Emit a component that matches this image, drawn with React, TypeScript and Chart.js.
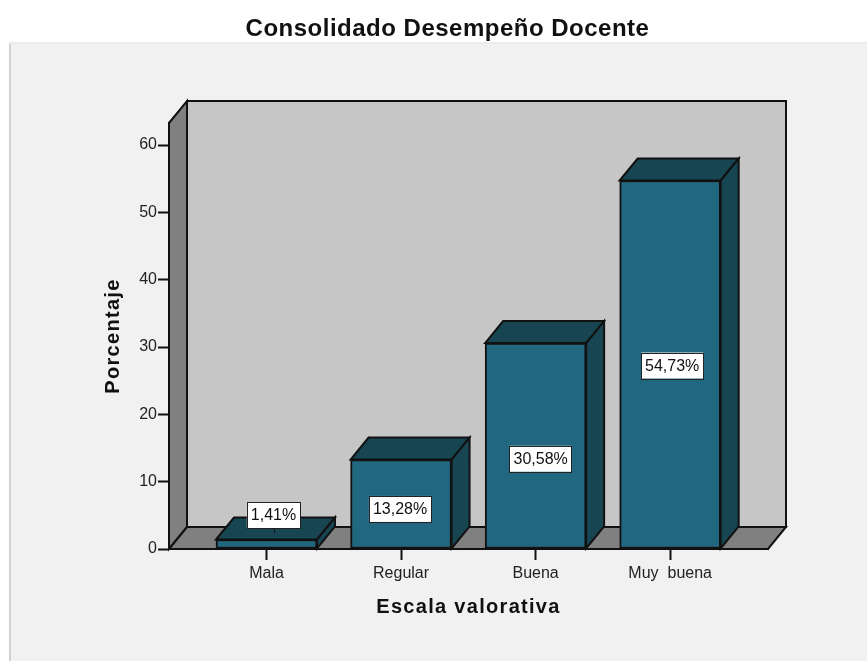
import React, { useEffect, useRef } from "react";
import { Chart, registerables } from "chart.js";

Chart.register(...registerables);

const chartTitle = "Consolidado Desempeño Docente";
const xAxisTitle = "Escala valorativa";
const yAxisTitle = "Porcentaje";
const categories = ["Mala", "Regular", "Buena", "Muy  buena"];
const percentages = [1.41, 13.28, 30.58, 54.73];
const labelAnchors = [5.05, 5.95, 13.4, 27.25];
const labelShifts = [7, -1, 5, 2];
const yTicks = [0, 10, 20, 30, 40, 50, 60];

const FRONT = "#21677f";
const DARK = "#174552";
const WALL = "#c6c6c6";
const FLOOR = "#808080";
const LINE = "#111111";
const DX = 18;
const DY = 22;

function poly(ctx: CanvasRenderingContext2D, pts: number[][], fill: string) {
  ctx.beginPath();
  pts.forEach((p, i) => (i ? ctx.lineTo(p[0], p[1]) : ctx.moveTo(p[0], p[1])));
  ctx.closePath();
  ctx.fillStyle = fill;
  ctx.fill();
  ctx.strokeStyle = LINE;
  ctx.lineWidth = 2;
  ctx.lineJoin = "miter";
  ctx.stroke();
}

function spaced(target: any, key: string, spacing: string) {
  if (!target || target["__spaced"]) return;
  const original = target[key].bind(target);
  target["__spaced"] = true;
  target[key] = (...args: any[]) => {
    const ctx: any = target.ctx;
    const previous = ctx.letterSpacing;
    ctx.letterSpacing = spacing;
    original(...args);
    ctx.letterSpacing = previous;
  };
}

const scene3d = {
  id: "scene3d",
  beforeDraw(chart: any) {
    spaced(chart.scales.x, "drawTitle", "1.3px");
    spaced(chart.scales.y, "drawTitle", "1.3px");
    spaced(chart.titleBlock, "draw", "0.5px");
    const { ctx, width, height, chartArea: a } = chart;
    ctx.save();
    ctx.fillStyle = "#ffffff";
    ctx.fillRect(0, 0, width, height);
    ctx.fillStyle = "#f1f1f1";
    ctx.fillRect(10, 43, width - 10, height - 43);
    ctx.fillStyle = "#d2d2d2";
    ctx.fillRect(9, 43, 2, height - 43);
    ctx.fillStyle = "#ececec";
    ctx.fillRect(9, 42, width - 9, 2);
    const l = a.left, r = a.right, t = a.top, b = a.bottom;
    poly(ctx, [[l + DX, t - DY], [r + DX, t - DY], [r + DX, b - DY], [l + DX, b - DY]], WALL);
    poly(ctx, [[l, t], [l + DX, t - DY], [l + DX, b - DY], [l, b]], FLOOR);
    poly(ctx, [[l, b], [l + DX, b - DY], [r + DX, b - DY], [r, b]], FLOOR);
    ctx.restore();
  },
  beforeDatasetsDraw(chart: any) {
    const { ctx } = chart;
    ctx.save();
    chart.getDatasetMeta(0).data.forEach((bar: any) => {
      const w = bar.width / 2;
      const x0 = bar.x - w, x1 = bar.x + w;
      poly(ctx, [[x0, bar.y], [x0 + DX, bar.y - DY], [x1 + DX, bar.y - DY], [x1, bar.y]], DARK);
      poly(ctx, [[x1, bar.y], [x1 + DX, bar.y - DY], [x1 + DX, bar.base - DY], [x1, bar.base]], DARK);
    });
    ctx.restore();
  },
  afterDatasetsDraw(chart: any) {
    const { ctx, scales } = chart;
    ctx.save();
    ctx.font = '16px "Liberation Sans"';
    ctx.textAlign = "center";
    ctx.textBaseline = "middle";
    chart.getDatasetMeta(0).data.forEach((bar: any, i: number) => {
      const text = percentages[i].toFixed(2).replace(".", ",") + "%";
      const cx = bar.x + labelShifts[i];
      const cy = scales.y.getPixelForValue(labelAnchors[i]);
      const bw = ctx.measureText(text).width + 8;
      const bh = 26;
      if (cy < bar.y) {
        ctx.strokeStyle = LINE;
        ctx.lineWidth = 1;
        ctx.beginPath();
        ctx.moveTo(Math.round(cx) + 0.5, cy + bh / 2);
        ctx.lineTo(Math.round(cx) + 0.5, cy + bh / 2 + 5);
        ctx.stroke();
      }
      ctx.fillStyle = "#ffffff";
      ctx.fillRect(cx - bw / 2, cy - bh / 2, bw, bh);
      ctx.strokeStyle = "#222222";
      ctx.lineWidth = 1;
      ctx.strokeRect(Math.round(cx - bw / 2) + 0.5, Math.round(cy - bh / 2) + 0.5, Math.round(bw), bh);
      ctx.fillStyle = "#111111";
      ctx.fillText(text, cx, cy + 1);
    });
    ctx.restore();
  },
};

export default function App() {
  const ref = useRef<HTMLCanvasElement | null>(null);
  useEffect(() => {
    if (!ref.current) return;
    const chart = new Chart(ref.current, {
      type: "bar",
      data: {
        datasets: [
          {
            label: yAxisTitle,
            data: percentages.map((y, x) => ({ x, y })),
            backgroundColor: FRONT,
            borderColor: LINE,
            borderWidth: 2,
            borderSkipped: false,
            barThickness: 101,
          },
        ],
      },
      options: {
        animation: false,
        responsive: false,
        layout: { padding: { left: 127, right: 99, top: 0, bottom: 43 } },
        plugins: {
          legend: { display: false },
          tooltip: { enabled: false },
          title: {
            display: true,
            text: chartTitle,
            color: "#111111",
            font: { family: "Liberation Sans", size: 24, weight: "bold", lineHeight: 1 },
            padding: { top: 17, bottom: 82 },
          },
        },
        scales: {
          x: {
            type: "linear",
            offset: false,
            min: -0.7246,
            max: 3.727,
            afterBuildTicks: (s: any) => {
              s.ticks = categories.map((_, value) => ({ value }));
            },
            afterFit: (s: any) => {
              s.height = 69;
            },
            grid: {
              offset: false,
              drawOnChartArea: false,
              color: LINE,
              tickLength: 11,
              tickWidth: 2,
            },
            border: { display: true, color: LINE, width: 2 },
            ticks: {
              autoSkip: false,
              maxRotation: 0,
              padding: 4,
              color: "#222222",
              font: { family: "Liberation Sans", size: 16 },
              callback: (v: any) => categories[v as number] ?? "",
            },
            title: {
              display: true,
              text: xAxisTitle,
              color: "#111111",
              font: { family: "Liberation Sans", size: 20, weight: "bold", lineHeight: 1.1 },
              padding: { top: 0, bottom: 0 },
            },
          },
          y: {
            min: 0,
            max: 63.27,
            afterBuildTicks: (s: any) => {
              s.ticks = yTicks.map((value) => ({ value }));
            },
            afterFit: (s: any) => {
              s.width = 42;
            },
            grid: {
              drawOnChartArea: false,
              color: LINE,
              tickLength: 11,
              tickWidth: 2,
            },
            border: { display: true, color: LINE, width: 2 },
            ticks: {
              padding: 1,
              color: "#222222",
              font: { family: "Liberation Sans", size: 16 },
            },
            title: {
              display: true,
              text: yAxisTitle,
              color: "#111111",
              font: { family: "Liberation Sans", size: 20, weight: "bold", lineHeight: 1.1 },
              padding: { top: -25, bottom: 0 },
            },
          },
        },
      },
      plugins: [scene3d],
    } as any);
    return () => chart.destroy();
  }, []);
  return (
    <canvas
      ref={ref}
      width={867}
      height={661}
      style={{ position: "fixed", left: 0, top: 0, width: 867, height: 661, display: "block" }}
    />
  );
}
